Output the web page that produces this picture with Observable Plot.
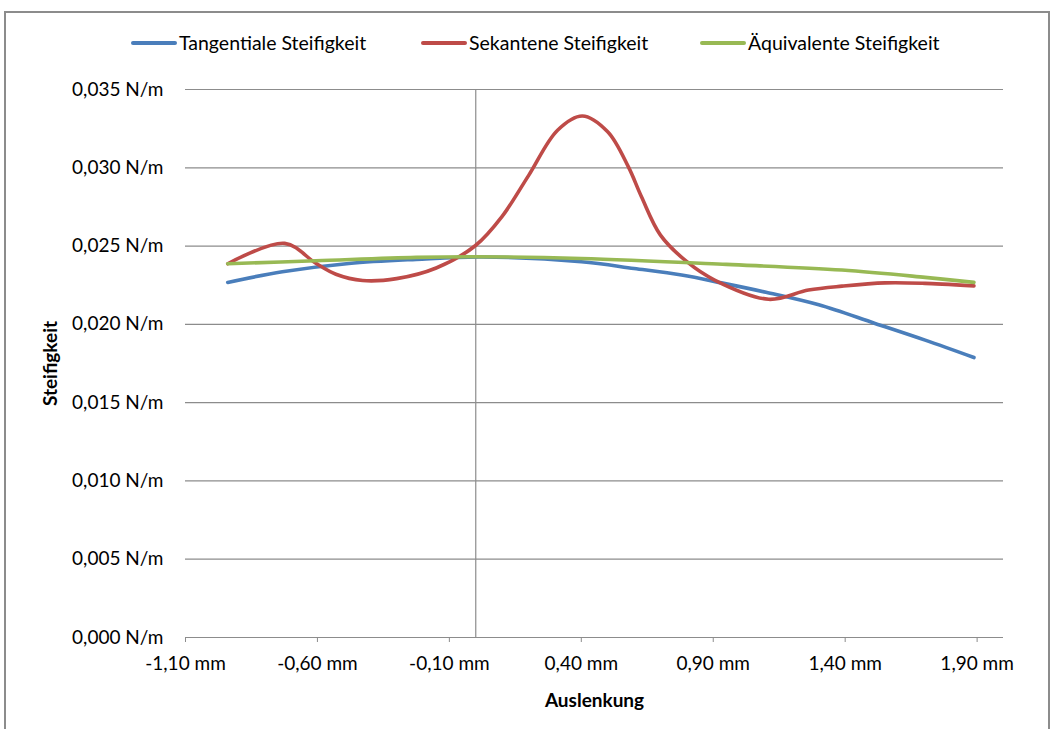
<!DOCTYPE html>
<html>
<head>
<meta charset="utf-8">
<script src="https://cdn.jsdelivr.net/npm/d3@7"></script>
<script src="https://cdn.jsdelivr.net/npm/@observablehq/plot@0.6"></script>
<style>
  html, body { margin: 0; padding: 0; background: #fff; }
  #wrap { position: relative; width: 1057px; height: 729px; overflow: hidden; font-family: Lato, "Open Sans", sans-serif; }
  #frame { position: absolute; left: 4px; top: 11px; width: 1046px; height: 740px; border: 2px solid #8c8c8c; box-sizing: border-box; }
  #legend { position: absolute; left: 0; top: 31px; width: 1057px; height: 26px; font-size: 19.5px; color: #000; }
  .item { position: absolute; top: 0; display: flex; align-items: center; white-space: nowrap; }
  .sw { width: 46px; height: 4px; border-radius: 2px; margin-right: 2px; }
  #chart { position: absolute; left: 0; top: 0; }
</style>
</head>
<body>
<div id="wrap">
  <div id="frame"></div>
  <div id="chart"></div>
  <div id="legend"></div>
</div>
<script>
// ---- Data ----
const seriesNames = ["Tangentiale Steifigkeit", "Sekantene Steifigkeit", "Äquivalente Steifigkeit"];
const seriesColors = ["#4A7EBB", "#BE4B48", "#98B954"];
const legendLeft = [131, 421, 700];

const tangX = [-0.94, -0.733, -0.481, -0.226, 0.02, 0.40, 0.60, 0.78, 0.931, 1.10, 1.30, 1.513, 1.703, 1.888];
const tangY = [0.02268, 0.02336, 0.02389, 0.02415, 0.02430, 0.02400, 0.02357, 0.02315, 0.02265, 0.02205, 0.02125, 0.02006, 0.01899, 0.01788];

const sekX = [-0.94, -0.724, -0.606, -0.530, -0.429, -0.300, -0.150, -0.002, 0.100, 0.200, 0.310, 0.404, 0.500, 0.578, 0.628, 0.700, 0.800, 0.905, 1.11, 1.261, 1.388, 1.551, 1.703, 1.888];
const sekY = [0.02387, 0.02517, 0.02390, 0.02320, 0.02280, 0.02292, 0.02360, 0.02502, 0.02690, 0.02950, 0.03240, 0.03331, 0.03230, 0.03007, 0.02815, 0.02570, 0.02400, 0.02283, 0.02160, 0.02219, 0.02244, 0.02265, 0.02262, 0.02246];

const aeqX = [-0.94, -0.606, -0.226, 0.0, 0.40, 0.95, 1.388, 1.703, 1.888];
const aeqY = [0.02387, 0.02406, 0.02428, 0.02432, 0.02421, 0.02383, 0.02347, 0.02300, 0.02268];

const xTicks = [-1.1, -0.6, -0.1, 0.4, 0.9, 1.4, 1.9];
const yTicks = [0, 0.005, 0.010, 0.015, 0.020, 0.025, 0.030, 0.035];

// ---- Build table ----
const seriesX = [tangX, sekX, aeqX];
const seriesY = [tangY, sekY, aeqY];
const rows = [];
seriesNames.forEach((name, i) => {
  seriesX[i].forEach((x, j) => rows.push({series: name, x, y: seriesY[i][j]}));
});

const loc = d3.formatLocale({decimal: ",", thousands: ".", grouping: [3], currency: ["", "€"], minus: "-"});
const fx = loc.format(".2f");
const fy = loc.format(".3f");

const chart = Plot.plot({
  width: 1057,
  height: 729,
  marginLeft: 185,
  marginRight: 54,
  marginTop: 89,
  marginBottom: 92,
  style: {fontFamily: "Lato, 'Open Sans', sans-serif", fontSize: "19px", color: "#000", background: "transparent"},
  x: {domain: [-1.1, 2.0], label: null},
  y: {domain: [0, 0.035], label: null},
  color: {domain: seriesNames, range: seriesColors},
  marks: [
    Plot.gridY(yTicks, {stroke: "#8c8c8c", strokeOpacity: 1, strokeWidth: 1.2}),
    Plot.ruleX([0], {stroke: "#8c8c8c", strokeWidth: 1.2}),
    Plot.axisX(xTicks, {tickSize: 5, tickPadding: 14, stroke: "#8c8c8c", tickFormat: d => fx(d) + " mm",
      label: "Auslenkung", labelArrow: "none", labelAnchor: "center", labelOffset: 69, fontSize: 19}),
    Plot.axisY(yTicks, {tickSize: 0, tickPadding: 22, tickFormat: d => fy(d) + " N/m",
      label: "Steifigkeit", labelArrow: "none", labelAnchor: "center", labelOffset: 142, fontSize: 19}),
    Plot.line(rows, {x: "x", y: "y", z: "series", stroke: "series", strokeWidth: 3.6, curve: "catmull-rom", strokeLinecap: "round", strokeLinejoin: "round"})
  ]
});
document.getElementById("chart").appendChild(chart);
// bold axis titles, strip any arrows
chart.querySelectorAll("g[aria-label='x-axis label'] text, g[aria-label='y-axis label'] text").forEach(t => {
  t.setAttribute("font-weight", "bold");
  t.textContent = t.textContent.replace(/\s*[→↑←↓]\s*/g, "").trim();
});

// ---- Legend ----
const legend = document.getElementById("legend");
seriesNames.forEach((name, i) => {
  const it = document.createElement("div");
  it.className = "item";
  it.style.left = legendLeft[i] + "px";
  const sw = document.createElement("div");
  sw.className = "sw";
  sw.style.background = seriesColors[i];
  const tx = document.createElement("span");
  tx.textContent = name;
  it.appendChild(sw);
  it.appendChild(tx);
  legend.appendChild(it);
});
</script>
</body>
</html>
